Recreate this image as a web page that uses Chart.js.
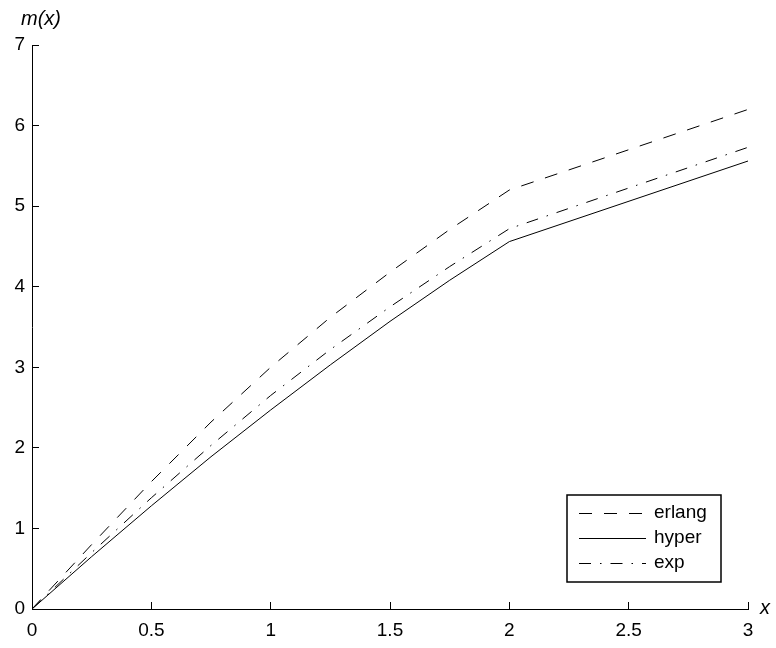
<!DOCTYPE html>
<html>
<head>
<meta charset="utf-8">
<script src="https://cdn.jsdelivr.net/npm/chart.js@4.4.1/dist/chart.umd.min.js"></script>
<style>
  html, body { margin: 0; padding: 0; background: #fff; }
  #wrap { width: 776px; height: 648px; position: relative; }
</style>
</head>
<body>
<div id="wrap"><canvas id="chart" width="776" height="648"></canvas></div>
<script>
// ---- datos ----
const xValues = [0, 0.25, 0.5, 0.75, 1, 1.25, 1.5, 1.75, 2, 3];
const erlang = [0, 0.80, 1.58, 2.32, 3.00, 3.62, 4.18, 4.71, 5.20, 6.20];
const hyper  = [0, 0.65, 1.28, 1.89, 2.47, 3.03, 3.57, 4.08, 4.56, 5.56];
const expo   = [0, 0.70, 1.38, 2.03, 2.65, 3.22, 3.75, 4.25, 4.72, 5.73];
const seriesNames = ['erlang', 'hyper', 'exp'];
const xTickLabels = ['0', '0.5', '1', '1.5', '2', '2.5', '3'];
const yTickLabels = ['0', '1', '2', '3', '4', '5', '6', '7'];

const FONT = '"Liberation Sans", Arial, Helvetica, sans-serif';

function toPoints(ys) {
  return xValues.map((x, i) => ({ x: x, y: ys[i] }));
}

// títulos de ejes estilo MATLAB
const axisTitles = {
  id: 'axisTitles',
  afterDraw(chart) {
    const ctx = chart.ctx;
    const xs = chart.scales.x, ys = chart.scales.y;
    ctx.save();
    ctx.fillStyle = '#000';
    ctx.font = 'italic 20px ' + FONT;
    ctx.textAlign = 'left';
    ctx.textBaseline = 'alphabetic';
    ctx.fillText('m(x)', xs.left - 11, ys.top - 20);
    ctx.fillText('x', xs.right + 12, ys.bottom + 5);
    ctx.restore();
  }
};

// leyenda dentro del área, abajo a la derecha
const boxLegend = {
  id: 'boxLegend',
  afterDraw(chart) {
    const ctx = chart.ctx;
    const area = chart.chartArea;
    const w = 154, rowH = 25, h = rowH * chart.data.datasets.length + 12;
    const right = area.right - 27, bottom = area.bottom - 27;
    const left = right - w, top = bottom - h;
    ctx.save();
    ctx.fillStyle = '#fff';
    ctx.fillRect(left, top, w, h);
    ctx.strokeStyle = '#000';
    ctx.lineWidth = 1.5;
    ctx.strokeRect(left, top, w, h);
    ctx.font = '19px ' + FONT;
    ctx.textBaseline = 'middle';
    ctx.fillStyle = '#000';
    chart.data.datasets.forEach((ds, i) => {
      const cy = top + 18 + i * rowH;
      ctx.beginPath();
      ctx.setLineDash(ds.borderDash || []);
      ctx.lineWidth = 1;
      ctx.strokeStyle = '#000';
      ctx.moveTo(left + 12, Math.round(cy) + 0.5);
      ctx.lineTo(left + 79, Math.round(cy) + 0.5);
      ctx.stroke();
      ctx.setLineDash([]);
      ctx.fillText(ds.label, left + 87, cy);
    });
    ctx.restore();
  }
};

const lineStyle = {
  borderColor: '#000',
  borderWidth: 1,
  pointRadius: 0,
  fill: false,
  tension: 0
};

// ticks hacia dentro: tickLength negativo
const innerGrid = {
  display: true,
  drawOnChartArea: false,
  drawTicks: true,
  tickLength: -7,
  color: '#000',
  lineWidth: 1
};

new Chart(document.getElementById('chart'), {
  type: 'line',
  data: {
    datasets: [
      Object.assign({ label: seriesNames[0], data: toPoints(erlang), borderDash: [13, 12] }, lineStyle),
      Object.assign({ label: seriesNames[1], data: toPoints(hyper), borderDash: [] }, lineStyle),
      Object.assign({ label: seriesNames[2], data: toPoints(expo), borderDash: [12, 9, 1.5, 9] }, lineStyle)
    ]
  },
  options: {
    responsive: false,
    animation: false,
    layout: { padding: { top: 45, right: 28, left: 0, bottom: 0 } },
    plugins: { legend: { display: false }, tooltip: { enabled: false } },
    scales: {
      x: {
        type: 'linear',
        min: 0, max: 3,
        ticks: {
          stepSize: 0.5,
          color: '#000',
          font: { family: FONT, size: 19 },
          padding: 17,
          maxRotation: 0,
          callback: (v, i) => xTickLabels[i]
        },
        grid: innerGrid,
        border: { display: true, color: '#000', width: 1 },
        afterFit: s => { s.height = 39; }
      },
      y: {
        type: 'linear',
        min: 0, max: 7,
        ticks: {
          stepSize: 1,
          color: '#000',
          font: { family: FONT, size: 19 },
          padding: 14,
          callback: (v, i) => yTickLabels[i]
        },
        grid: innerGrid,
        border: { display: true, color: '#000', width: 1 },
        afterFit: s => { s.width = 32; }
      }
    }
  },
  plugins: [axisTitles, boxLegend]
});
</script>
</body>
</html>
